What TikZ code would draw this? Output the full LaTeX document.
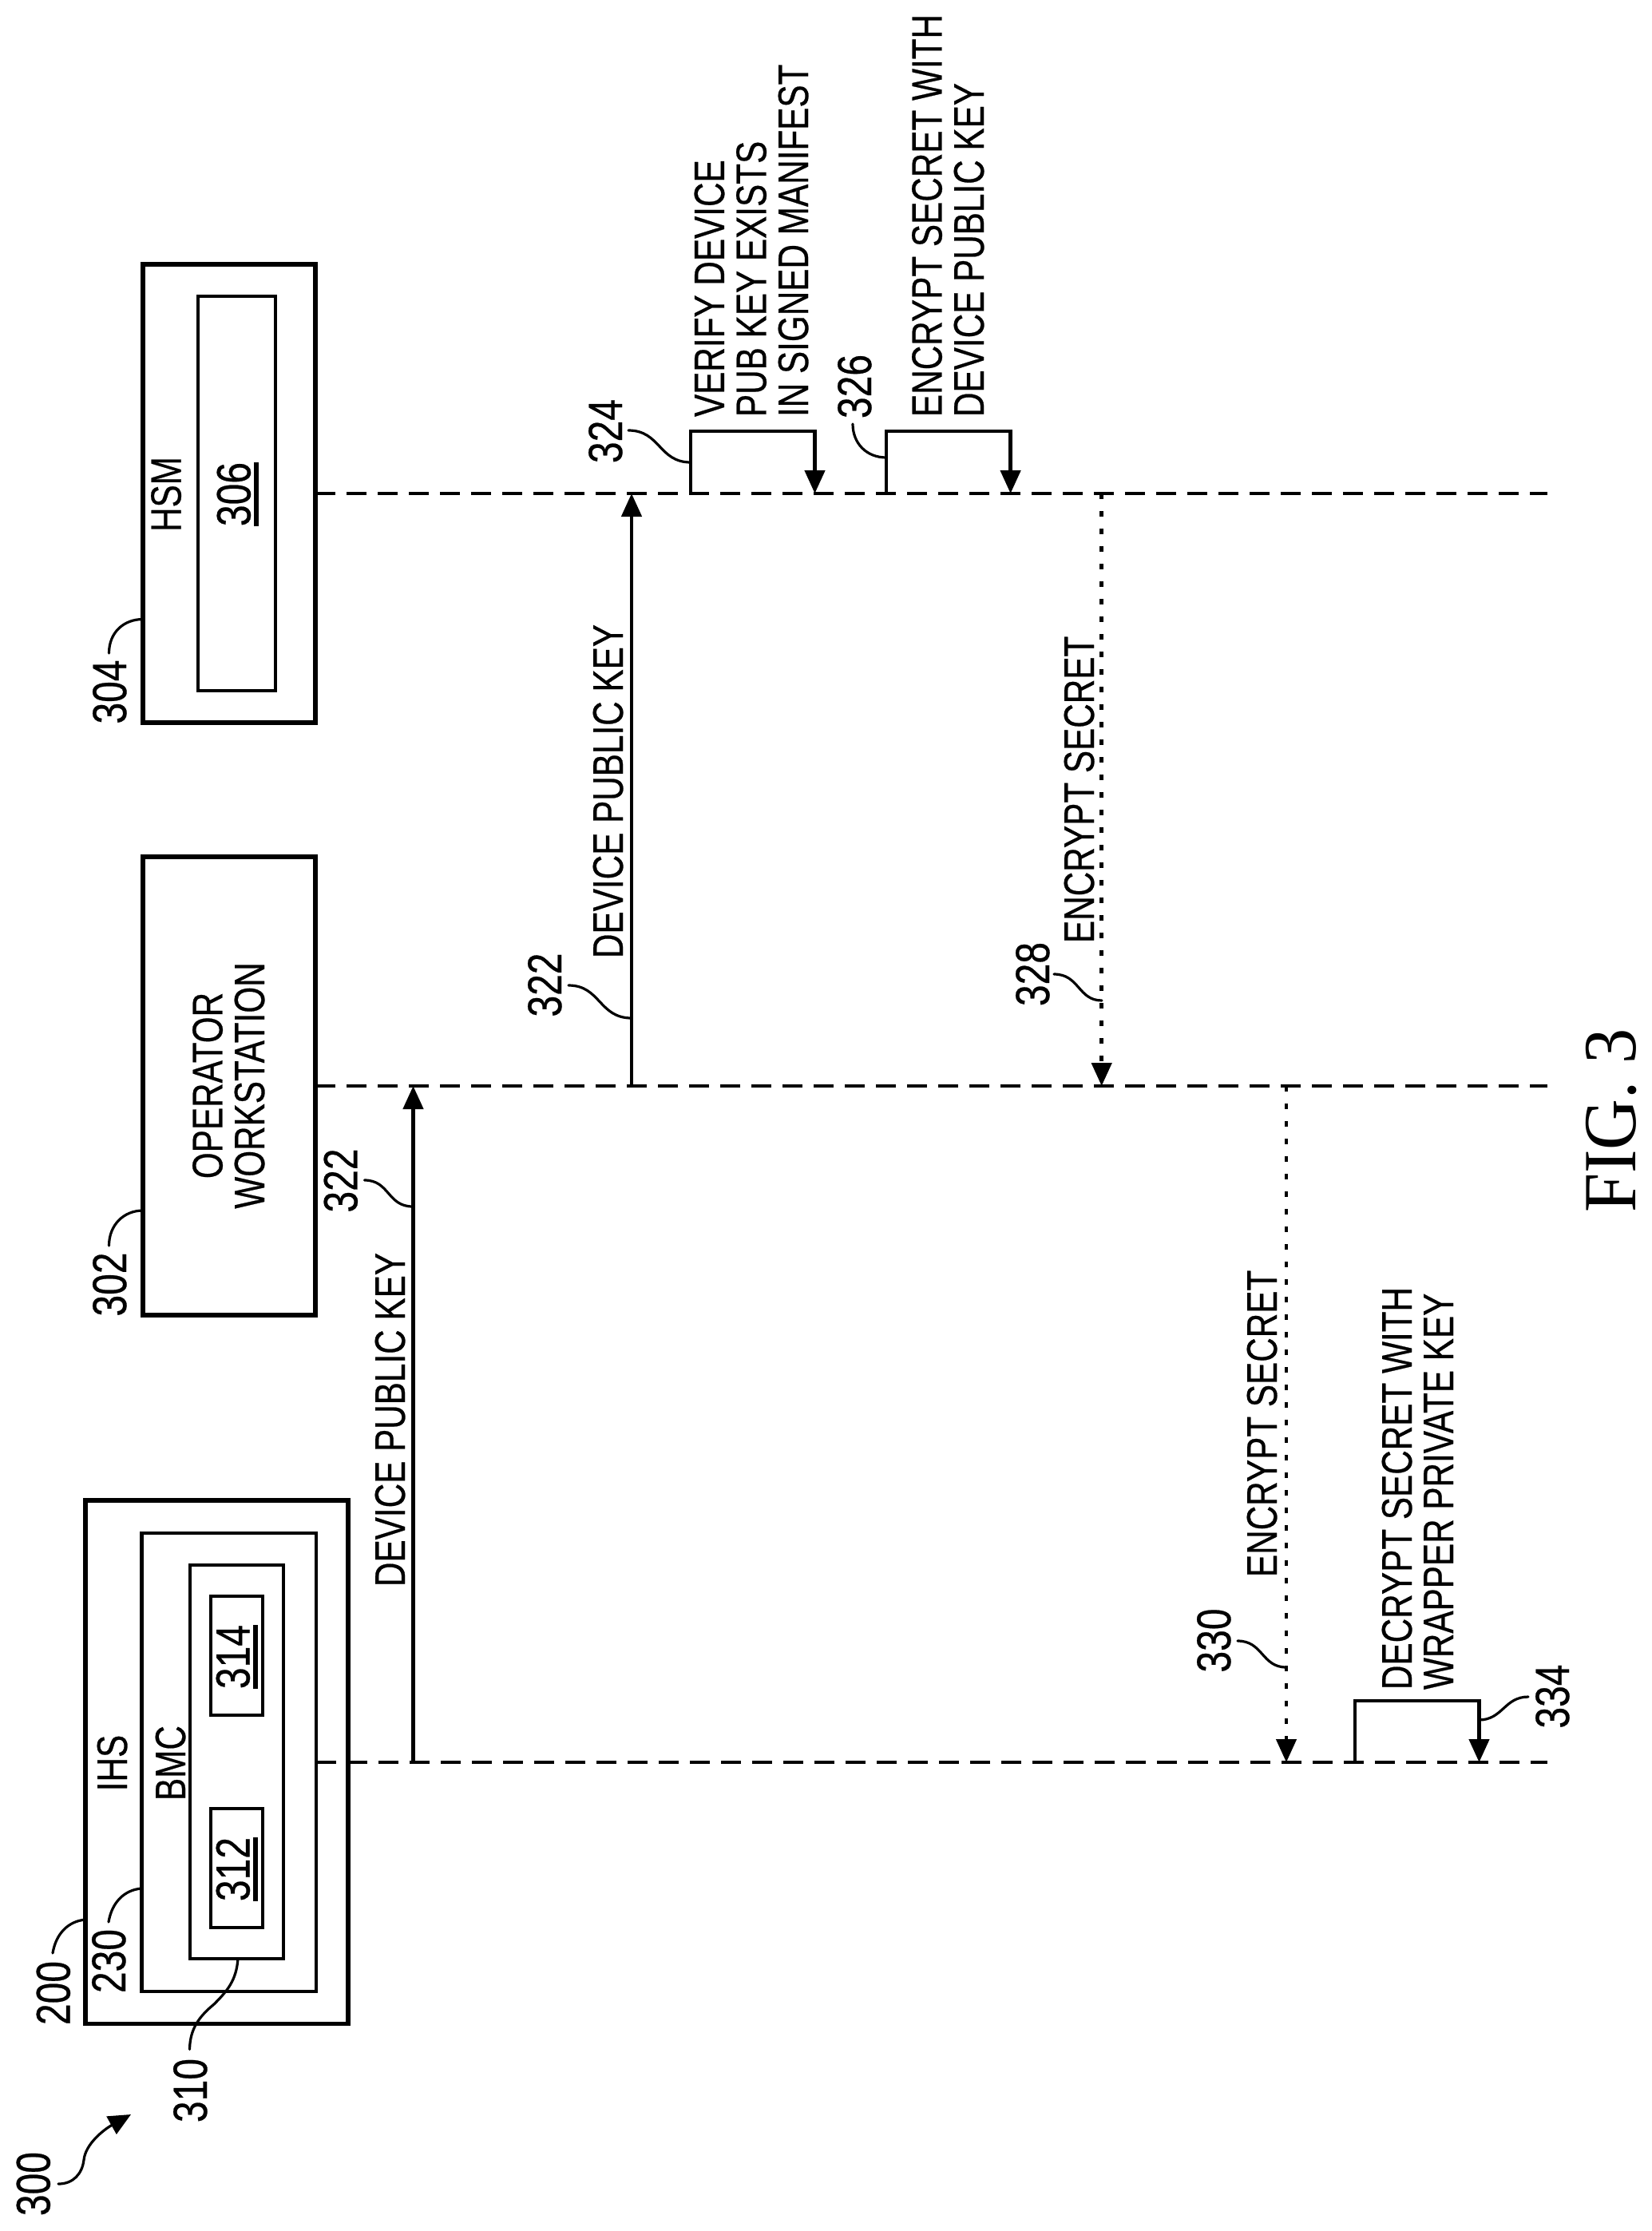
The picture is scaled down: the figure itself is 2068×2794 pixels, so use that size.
\documentclass[tikz,border=0pt]{standalone}
\usepackage{graphicx}
\usepackage{fontspec}
\setmainfont{Liberation Sans}[FakeBold=0.5]
\newfontfamily\figfont{Liberation Serif}
\usetikzlibrary{arrows.meta}
\newcommand\cnd[1]{\scalebox{.79}[1]{#1}}
\newcommand\lnum[1]{\scalebox{.8}[1]{#1}}
\newcommand\uln[1]{\setbox0\hbox{\lnum{#1}}\rlap{\copy0}\raisebox{-5pt}{\rule{\wd0}{2.75pt}}}
\newcommand\lines[2]{\cnd{\begin{tabular}[b]{@{}#1@{}}#2\end{tabular}}}
\tikzset{
  pbox/.style={draw=black,rectangle,inner sep=0pt,outer sep=0pt,line width=#1},
  pbox/.default=2.8pt,
  txt/.style={rotate=90,anchor=base west,inner sep=0pt,outer sep=0pt,font=\fontsize{26.75pt}{25.3pt}\selectfont},
  txc/.style={rotate=90,anchor=base,inner sep=0pt,outer sep=0pt,font=\fontsize{26.75pt}{25.3pt}\selectfont},
  refnum/.style={rotate=90,anchor=base,inner sep=0pt,outer sep=0pt,font=\fontsize{30pt}{32pt}\selectfont},
  life/.style={line width=2pt,dash pattern=on 12.5pt off 7pt},
  solidarr/.style={line width=2.3pt,-{Triangle[length=14.5pt,width=12.5pt]}},
  dotarr/.style={line width=2.3pt,dash pattern=on 3.5pt off 7.5pt,-{Triangle[length=14.5pt,width=12.5pt]}},
  lead/.style={line width=1.6pt,line cap=round},
}
\begin{document}
\begin{tikzpicture}[x=0.5pt,y=-0.5pt]
\useasboundingbox[fill=white] (0,0) rectangle (2068,2794);

% boxes
\node[pbox,minimum width=164.5pt,minimum height=327.75pt] (ihs) at (271.5,2206.75) {};
\node[pbox=2.1pt,minimum width=109.25pt,minimum height=287pt] (bmc) at (286.75,2207) {};
\node[pbox=2pt,minimum width=58.75pt,minimum height=246.5pt] (bmcin) at (296.25,2206.5) {};
\node[pbox=1.7pt,minimum width=32.5pt,minimum height=74.5pt] (b314) at (296.5,2073.5) {};
\node[pbox=1.7pt,minimum width=32.5pt,minimum height=74.5pt] (b312) at (296.5,2339.5) {};
\node[pbox,minimum width=108pt,minimum height=287pt] (op) at (287,1360) {};
\node[pbox,minimum width=108pt,minimum height=287pt] (hsm) at (287,618) {};
\node[pbox=2.1pt,minimum width=48.3pt,minimum height=247pt] (hsmin) at (296.3,618) {};

% box texts
\node[txc] (tihs) at (159,2208) {\cnd{IHS}};
\node[txc] (tbmc) at (232,2208) {\cnd{BMC}};
\node[txc] (thsm) at (226.5,619) {\cnd{HSM}};
\node[txc] (top) at (331,1359.5) {\lines{c}{OPERATOR\\WORKSTATION}};
\node[refnum] (n306) at (313.5,619) {\uln{306}};
\node[refnum] (n314) at (312.5,2075) {\uln{314}};
\node[refnum] (n312) at (312.5,2341) {\uln{312}};

% lifelines
\coordinate (hsmend) at (1938,618);
\coordinate (opend) at (1938,1360);
\coordinate (ihsend) at (1938,2207);
\draw[life] (hsm.east) -- (hsmend);
\draw[life] (op.east) -- (opend);
\draw[life] (bmc.east) -- (ihsend);

% messages
\coordinate (m1a) at (517.5,2207);
\coordinate (m1b) at (517.5,1360);
\draw[solidarr] (m1a) -- (m1b);
\coordinate (m2a) at (791,1360);
\coordinate (m2b) at (791,618);
\draw[solidarr] (m2a) -- (m2b);
\coordinate (m3a) at (1379.7,618);
\coordinate (m3b) at (1379.7,1360);
\draw[dotarr] (m3a) -- (m3b);
\coordinate (m4a) at (1611,1360);
\coordinate (m4b) at (1611,2207);
\draw[dotarr] (m4a) -- (m4b);

% self loops
\coordinate (s1a) at (865,618);
\coordinate (s1b) at (1020.5,618);
\draw[solidarr] (s1a) -- (865,540) -- (1020.5,540) -- (s1b);
\coordinate (s2a) at (1110,618);
\coordinate (s2b) at (1265.6,618);
\draw[solidarr] (s2a) -- (1110,540) -- (1265.6,540) -- (s2b);
\coordinate (s3a) at (1697,2207);
\coordinate (s3b) at (1852.5,2207);
\draw[solidarr] (s3a) -- (1697,2130) -- (1852.5,2130) -- (s3b);

% message texts
\node[txt] (t1) at (507,1987) {\cnd{DEVICE PUBLIC KEY}};
\node[txt] (t2) at (780,1200) {\cnd{DEVICE PUBLIC KEY}};
\node[txt] (t3) at (1370,1181) {\cnd{ENCRYPT SECRET}};
\node[txt] (t4) at (1599,1975) {\cnd{ENCRYPT SECRET}};
\node[txt] (t5) at (1012,522) {\lines{l}{VERIFY DEVICE\\PUB KEY EXISTS\\IN SIGNED MANIFEST}};
\node[txt] (t6) at (1232,522) {\lines{l}{ENCRYPT SECRET WITH\\DEVICE PUBLIC KEY}};
\node[txt] (t7) at (1820,2116) {\lines{l}{DECRYPT SECRET WITH\\WRAPPER PRIVATE KEY}};

% figure caption
\node[rotate=90,anchor=base west,inner sep=0pt,font=\fontsize{47pt}{50pt}\selectfont\figfont] (fig) at (2048,1519) {\scalebox{.94}[1]{FIG. 3}};

% reference numbers
\node[refnum] (n300) at (62.5,2735) {\lnum{300}};
\node[refnum] (n200) at (87.5,2496) {\lnum{200}};
\node[refnum] (n230) at (157,2456) {\lnum{230}};
\node[refnum] (n310) at (259,2618) {\lnum{310}};
\node[refnum] (n304) at (158,866.5) {\lnum{304}};
\node[refnum] (n302) at (158,1608.5) {\lnum{302}};
\node[refnum] (n322a) at (447.4,1478.5) {\lnum{322}};
\node[refnum] (n322b) at (703,1233.5) {\lnum{322}};
\node[refnum] (n324) at (779,540) {\lnum{324}};
\node[refnum] (n326) at (1091,484) {\lnum{326}};
\node[refnum] (n328) at (1314,1220) {\lnum{328}};
\node[refnum] (n330) at (1541,2054.5) {\lnum{330}};
\node[refnum] (n334) at (1965,2124.5) {\lnum{334}};

% leaders
\coordinate (l304) at (136.5,818);
\coordinate (e304) at (179,775.5);
\draw[lead] (l304) .. controls (136.5,792) and (155,775.5) .. (e304);
\coordinate (l302) at (136.5,1560);
\coordinate (e302) at (179,1516);
\draw[lead] (l302) .. controls (136.5,1534) and (155,1516) .. (e302);
\coordinate (l200) at (66,2446);
\coordinate (e200) at (107,2404);
\draw[lead] (l200) .. controls (70,2422) and (85,2406) .. (e200);
\coordinate (l230) at (136,2407);
\coordinate (e230) at (177,2365);
\draw[lead] (l230) .. controls (140,2383) and (155,2367) .. (e230);
\coordinate (l310) at (237.5,2566.5);
\coordinate (e310) at (298,2453);
\draw[lead] (l310) .. controls (238,2540) and (250,2525) .. (268,2510) .. controls (285,2493) and (296,2480) .. (e310);
\coordinate (l300) at (73,2735);
\coordinate (e300) at (164,2648);
\draw[lead,-{Triangle[length=14pt,width=12.5pt]}] (l300) .. controls (92,2735) and (103,2722) .. (105,2705) .. controls (107,2685) and (130,2667) .. (e300);
\coordinate (l322a) at (456.5,1478);
\coordinate (e322a) at (517,1511);
\draw[lead] (l322a) .. controls (488,1478) and (485,1511) .. (e322a);
\coordinate (l322b) at (712,1234);
\coordinate (e322b) at (791,1275);
\draw[lead] (l322b) .. controls (752,1234) and (750,1275) .. (e322b);
\coordinate (l324) at (787,539);
\coordinate (e324) at (865,579);
\draw[lead] (l324) .. controls (827,539) and (825,579) .. (e324);
\coordinate (l326) at (1068,531);
\coordinate (e326) at (1110,573);
\draw[lead] (l326) .. controls (1068,555) and (1085,573) .. (e326);
\coordinate (l328) at (1320,1220);
\coordinate (e328) at (1380,1253);
\draw[lead] (l328) .. controls (1352,1220) and (1350,1253) .. (e328);
\coordinate (l330) at (1550,2055);
\coordinate (e330) at (1611,2088);
\draw[lead] (l330) .. controls (1582,2055) and (1580,2088) .. (e330);
\coordinate (l334) at (1914,2125);
\coordinate (e334) at (1852,2154);
\draw[lead] (l334) .. controls (1884,2125) and (1882,2154) .. (e334);
\end{tikzpicture}
\end{document}
